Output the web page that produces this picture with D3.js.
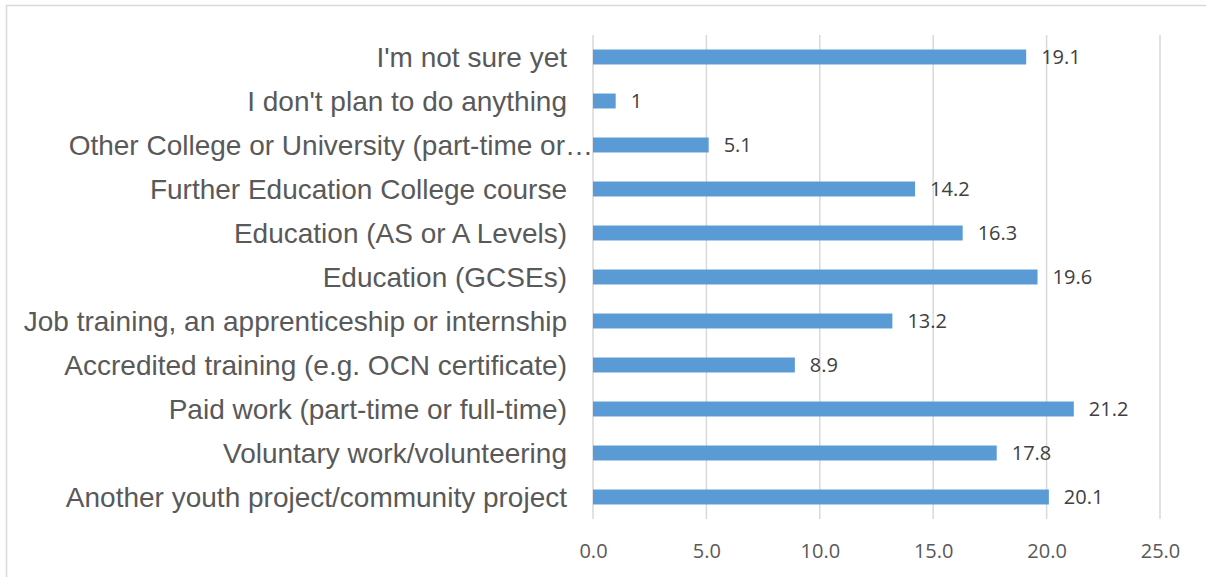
<!DOCTYPE html>
<html>
<head>
<meta charset="utf-8">
<script src="https://cdn.jsdelivr.net/npm/d3@7"></script>
<style>
  body { margin: 0; background: #fff; }
  svg { display: block; }
</style>
</head>
<body>
<div id="chart"></div>
<script>
const categories = [
  "I'm not sure yet",
  "I don't plan to do anything",
  "Other College or University (part-time or\u2026",
  "Further Education College course",
  "Education (AS or A Levels)",
  "Education (GCSEs)",
  "Job training, an apprenticeship or internship",
  "Accredited training (e.g. OCN certificate)",
  "Paid work (part-time or full-time)",
  "Voluntary work/volunteering",
  "Another youth project/community project"
]
const values = [19.1, 1, 5.1, 14.2, 16.3, 19.6, 13.2, 8.9, 21.2, 17.8, 20.1]
const ticks = [0, 5, 10, 15, 20, 25]

const width = 1206
const height = 577
const margin = {top: 35, right: 46, bottom: 58, left: 593}

const svg = d3.select("#chart").append("svg")
  .attr("width", width)
  .attr("height", height)

// chart border
svg.append("rect")
  .attr("x", 6.5).attr("y", 5.5)
  .attr("width", width + 10).attr("height", height + 10)
  .attr("fill", "none")
  .attr("stroke", "#d9d9d9")
  .attr("stroke-width", 1.5)

const x = d3.scaleLinear()
  .domain([0, 25])
  .range([margin.left, width - margin.right])

const y = d3.scaleBand()
  .domain(categories)
  .range([margin.top, height - margin.bottom])
  .paddingInner(0.66)
  .paddingOuter(0.33)

// gridlines
svg.append("g")
  .selectAll("line")
  .data(ticks)
  .join("line")
  .attr("x1", d => x(d)).attr("x2", d => x(d))
  .attr("y1", margin.top).attr("y2", height - margin.bottom)
  .attr("stroke", "#d9d9d9")
  .attr("stroke-width", 1.5)

// x axis labels
const xAxis = svg.append("g")
  .attr("transform", `translate(0,${height - margin.bottom})`)
  .call(d3.axisBottom(x).tickValues(ticks).tickFormat(d3.format(".1f")).tickSize(0).tickPadding(25))
xAxis.select(".domain").remove()
xAxis.selectAll("text")
  .attr("fill", "#595959")
  .attr("font-family", "'Open Sans', sans-serif")
  .attr("font-size", 20)

// category labels
const yAxis = svg.append("g")
  .attr("transform", `translate(${margin.left},0)`)
  .call(d3.axisLeft(y).tickSize(0).tickPadding(26))
yAxis.select(".domain").remove()
yAxis.selectAll("text")
  .attr("fill", "#595959")
  .attr("font-family", "'Liberation Sans', Arial, sans-serif")
  .attr("font-size", 28)
  .attr("dy", "0.34em")
  // the truncated label runs up to the axis, as in the original
  .attr("dx", d => d.endsWith("\u2026") ? 26 : 0)

// bars
svg.append("g")
  .selectAll("rect")
  .data(values)
  .join("rect")
  .attr("x", x(0))
  .attr("y", (d, i) => y(categories[i]))
  .attr("width", d => x(d) - x(0))
  .attr("height", y.bandwidth())
  .attr("fill", "#5b9bd5")

// value labels
svg.append("g")
  .selectAll("text")
  .data(values)
  .join("text")
  .attr("x", d => x(d) + 15)
  .attr("y", (d, i) => y(categories[i]) + y.bandwidth() / 2)
  .attr("dy", "0.36em")
  .attr("fill", "#404040")
  .attr("font-family", "'Open Sans', sans-serif")
  .attr("font-size", 20)
  .text(d => d)
</script>
</body>
</html>
